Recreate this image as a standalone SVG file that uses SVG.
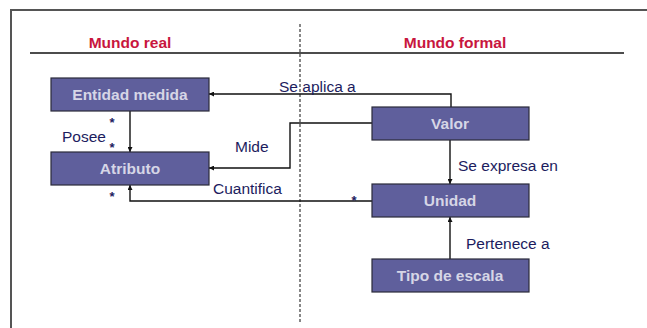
<svg xmlns="http://www.w3.org/2000/svg" width="647" height="328" viewBox="0 0 647 328">
<defs>
<marker id="arr" viewBox="0 0 6 6" refX="6" refY="3" markerWidth="5" markerHeight="5" orient="auto" markerUnits="userSpaceOnUse">
<path d="M0,0 L6,3 L0,6 z" fill="#111"/>
</marker>
</defs>
<style>
.frame{fill:none;stroke:#555;stroke-width:2}
.box{fill:#5f5f9c;stroke:#2a2a3a;stroke-width:1.2}
.nl{font-family:"Liberation Sans",Arial,sans-serif;font-weight:bold;font-size:15.5px;fill:#d6d6e6;text-anchor:middle}
.ttl{font-family:"Liberation Sans",Arial,sans-serif;font-weight:bold;font-size:15.5px;fill:#c8163e;text-anchor:middle}
.lbl{font-family:"Liberation Sans",Arial,sans-serif;font-size:15.5px;fill:#1c1c5e}
.star{font-family:"Liberation Sans",Arial,sans-serif;font-weight:bold;font-size:13px;fill:#1c1c5e;text-anchor:middle}
.ln{fill:none;stroke:#111;stroke-width:1.4}
</style>
<rect width="647" height="328" fill="#fff"/>
<path class="frame" d="M11,328 V10 H647"/>
<line x1="30" y1="53" x2="624" y2="53" stroke="#111" stroke-width="1.6"/>
<line x1="300" y1="24" x2="300" y2="322" stroke="#555" stroke-width="1.4" stroke-dasharray="3,2"/>
<text class="ttl" x="130" y="48">Mundo real</text>
<text class="ttl" x="455" y="48">Mundo formal</text>
<g id="connectors">
<path class="ln" d="M451,107 V94 H209" marker-end="url(#arr)"/>
<path class="ln" d="M130,111 V152" marker-end="url(#arr)"/>
<path class="ln" d="M372,123 H290 V168 H209" marker-end="url(#arr)"/>
<path class="ln" d="M372,201 H130 V185" marker-end="url(#arr)"/>
<path class="ln" d="M450,140 V184" marker-end="url(#arr)"/>
<path class="ln" d="M450,259 V217" marker-end="url(#arr)"/>
<text class="lbl" x="279" y="92">Se aplica a</text>
<text class="lbl" x="235" y="152">Mide</text>
<text class="lbl" x="213" y="194">Cuantifica</text>
<text class="lbl" x="458" y="171">Se expresa en</text>
<text class="lbl" x="466" y="249">Pertenece a</text>
<text class="lbl" x="62" y="142">Posee</text>
<text class="star" x="112" y="127">*</text>
<text class="star" x="112" y="152">*</text>
<text class="star" x="112" y="201">*</text>
<text class="star" x="354" y="205">*</text>
</g>
<g id="entidad">
<rect class="box" x="51" y="78" width="158" height="33"/>
<text class="nl" x="130" y="100">Entidad medida</text>
</g>
<g id="atributo">
<rect class="box" x="51" y="152" width="158" height="33"/>
<text class="nl" x="130" y="174">Atributo</text>
</g>
<g id="valor">
<rect class="box" x="372" y="107" width="157" height="33"/>
<text class="nl" x="450" y="129">Valor</text>
</g>
<g id="unidad">
<rect class="box" x="372" y="184" width="157" height="33"/>
<text class="nl" x="450" y="206">Unidad</text>
</g>
<g id="tipo">
<rect class="box" x="372" y="259" width="157" height="33"/>
<text class="nl" x="450" y="281">Tipo de escala</text>
</g>
</svg>
